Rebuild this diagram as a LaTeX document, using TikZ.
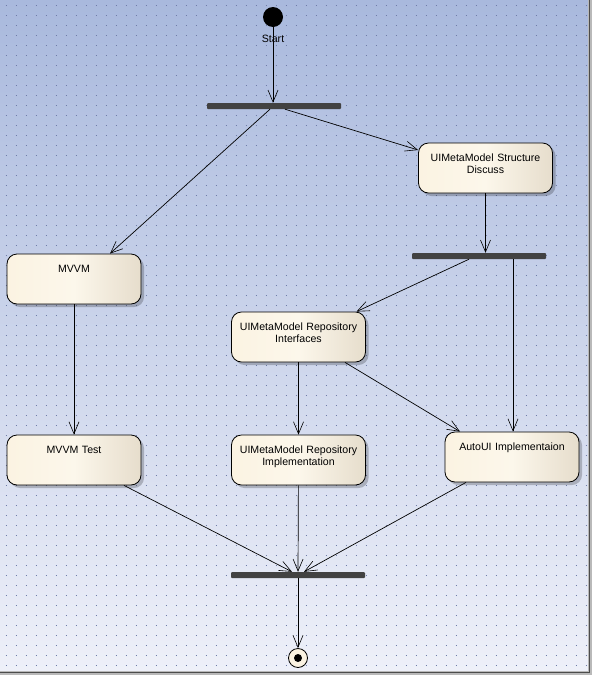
\documentclass[tikz,border=0pt]{standalone}
\usepackage{fontspec}
\setmainfont{Liberation Sans}
\usetikzlibrary{arrows.meta,shadows}
\definecolor{bgtop}{HTML}{A9B9DD}
\definecolor{bgbottom}{HTML}{EEF0F9}
\definecolor{griddot}{HTML}{6E7BAA}
\definecolor{creamleft}{HTML}{FBF3E2}
\definecolor{creammid}{HTML}{FCF7EB}
\definecolor{creamright}{HTML}{E6DDCC}
\definecolor{barcol}{HTML}{424242}

\begin{document}
\begin{tikzpicture}[x=1pt,y=-1pt,
  font=\fontsize{10.6}{12}\selectfont,
  activity/.style={draw=black, line width=0.8pt, rounded corners=10pt,
    minimum width=134pt, text width=128pt, align=center,
    inner xsep=3pt, inner ysep=3pt, text height=15pt, text depth=29pt,
    left color=creamleft, right color=creamright, middle color=creammid,
    drop shadow={shadow xshift=3pt,shadow yshift=-3pt,fill=black,opacity=0.22}},
  bar/.style={fill=barcol, rounded corners=1pt, minimum width=134pt,
    minimum height=6pt, inner sep=0pt},
  flow/.style={line width=0.7pt,
    -{Straight Barb[length=12pt,width=10pt,line width=0.6pt]}}]
\useasboundingbox (0,0) rectangle (592,675);
\fill[top color=bgtop, bottom color=bgbottom] (0,0) rectangle (588,671);
\foreach \y in {5,15,...,665}
  \draw[griddot, line width=1pt, dash pattern=on 1pt off 9pt] (5.5,\y) -- (588,\y);
\fill[gray!55] (588,0) rectangle (592,675);
\fill[gray!55] (0,671) rectangle (592,675);
\draw[black!70, line width=1.5pt] (589.5,0) -- (589.5,672.5) -- (0,672.5);

\node[circle, fill=black, minimum size=20pt, inner sep=0pt,
  label={[label distance=4.5pt]below:Start}] (start) at (273,17) {};
\node[bar] (fork1) at (274,106) {};
\node[activity] (structure) at (485.5,168) {UIMetaModel Structure\\Discuss};
\node[bar] (fork2) at (479,256) {};
\node[activity] (mvvm) at (74,279) {MVVM};
\node[activity] (interfaces) at (298.5,337) {UIMetaModel Repository\\Interfaces};
\node[activity] (mvvmtest) at (74,460) {MVVM Test};
\node[activity] (impl) at (298.5,460) {UIMetaModel Repository\\Implementation};
\node[activity] (autoui) at (512,457) {AutoUI Implementaion};
\node[bar] (join) at (298,575) {};
\node[circle, draw=black, line width=0.8pt, fill=creamleft, minimum size=19pt,
  inner sep=0pt, path picture={\fill[black] (path picture bounding box.center) circle (4pt);}]
  (final) at (298,658) {};

\draw[flow] (start) -- (start |- fork1.north);
\draw[flow] ([xshift=-4pt]fork1.south) -- ([xshift=36pt]mvvm.north);
\draw[flow] ([xshift=11pt]fork1.south) -- ([yshift=18pt]structure.west);
\draw[flow] (structure) -- (structure |- fork2.north);
\draw[flow] ([xshift=-10pt]fork2.south) -- ([xshift=58pt]interfaces.north);
\draw[flow] ([xshift=34pt]fork2.south) -- ([xshift=34pt]fork2.south |- autoui.north);
\draw[flow] (mvvm) -- (mvvmtest);
\draw[flow] (interfaces) -- (impl);
\draw[flow] ([xshift=46.5pt]interfaces.south) -- ([xshift=-52pt]autoui.north);
\draw[flow] ([xshift=50pt]mvvmtest.south) -- ([xshift=-6pt]join.north);
\draw[flow] (impl) -- (join);
\draw[flow] ([xshift=-46pt]autoui.south) -- ([xshift=6pt]join.north);
\draw[flow] (join) -- (final);
\end{tikzpicture}
\end{document}
